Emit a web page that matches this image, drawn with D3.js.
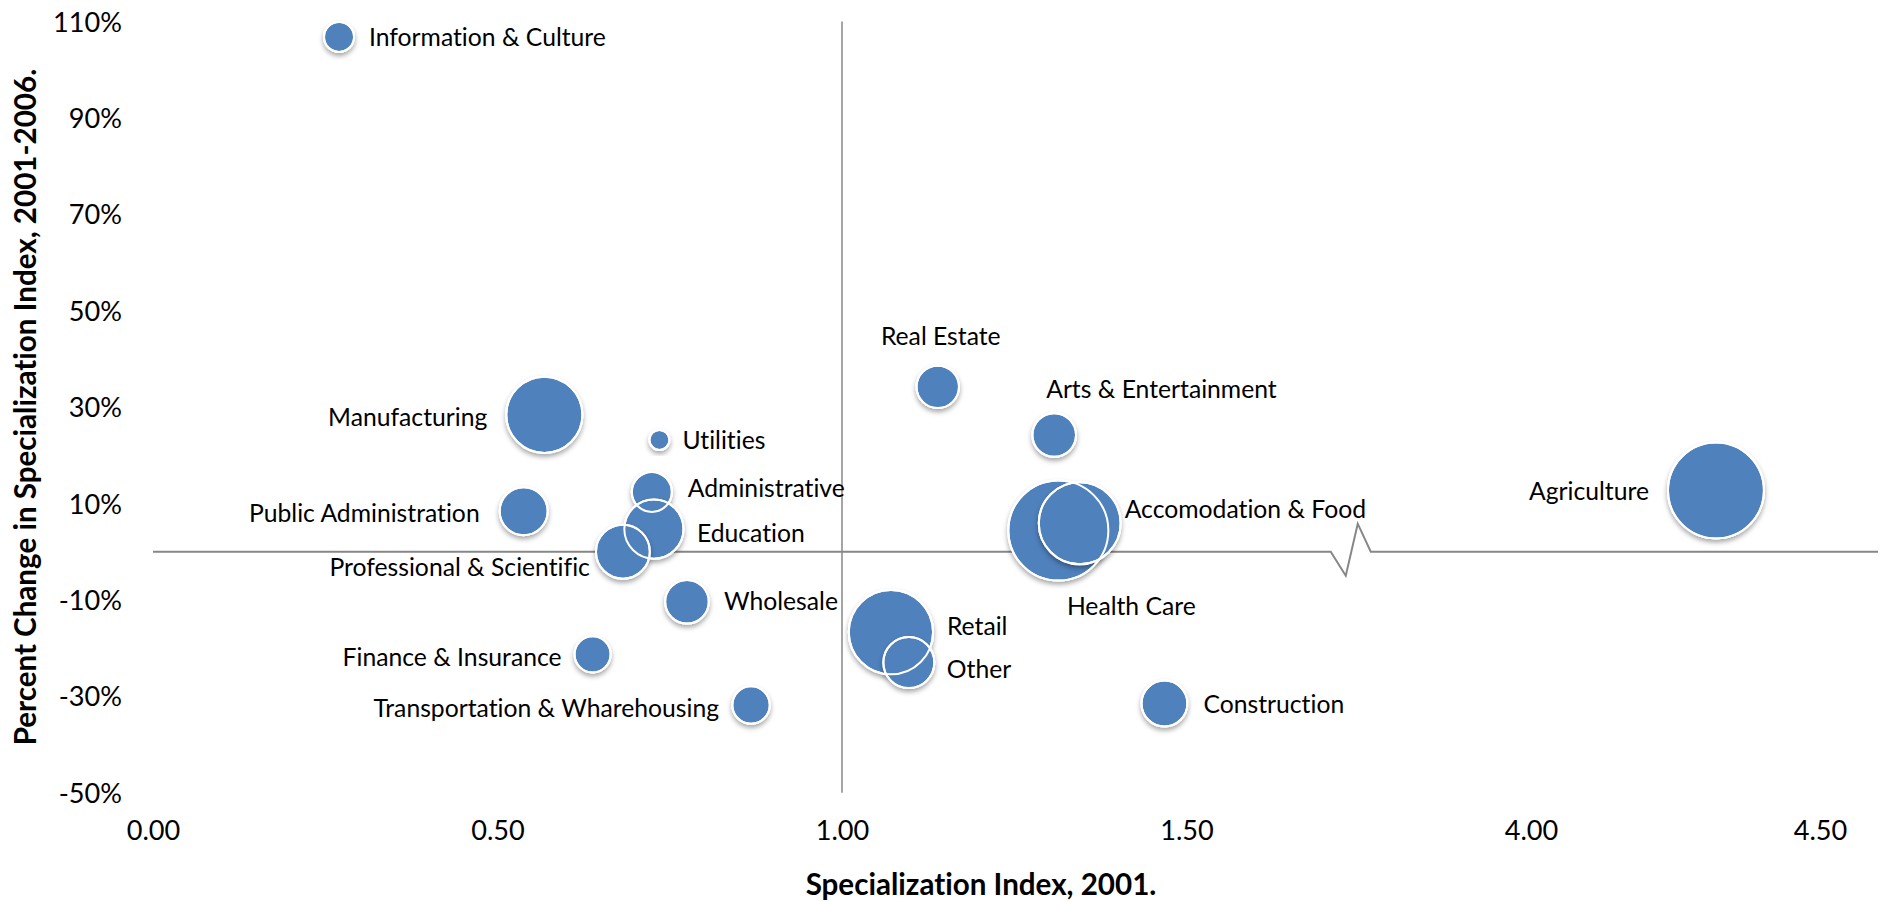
<!DOCTYPE html>
<html>
<head>
<meta charset="utf-8">
<script src="https://cdn.jsdelivr.net/npm/d3@7"></script>
<style>
  body { margin: 0; background: #fff; }
  svg { display: block; }
  svg text { font-variant-ligatures: none; font-feature-settings: "liga" 0, "clig" 0; }
</style>
</head>
<body>
<div id="chart"></div>
<script>
// industries, 2001 specialization index, % change 2001-2006, bubble size
let sectors = ['Information & Culture', 'Manufacturing', 'Utilities', 'Administrative',
  'Public Administration', 'Education', 'Professional & Scientific', 'Wholesale',
  'Finance & Insurance', 'Transportation & Wharehousing', 'Real Estate',
  'Arts & Entertainment', 'Health Care', 'Accomodation & Food', 'Retail', 'Other',
  'Construction', 'Agriculture']
let index2001 = [0.27, 0.568, 0.735, 0.724, 0.538, 0.727, 0.682, 0.775, 0.638, 0.868,
  1.139, 1.308, 1.314, 1.345, 1.071, 1.097, 1.468, 4.32]
let pctChange = [106.8, 28.4, 23.2, 12.4, 8.4, 4.7, 0.0, -10.4, -21.3, -31.8,
  34.2, 24.2, 4.4, 5.9, -16.7, -23.0, -31.5, 12.7]
let bubbleSize = [9, 58, 4, 16, 23, 35, 29, 19, 13, 14, 18, 19, 100, 67, 71, 26, 21, 92]

let xTicks = [0, 0.5, 1, 1.5, 4, 4.5]
let yTicks = [-50, -30, -10, 10, 30, 50, 70, 90, 110]

// label placement: [text-anchor, dx, dy] from bubble centre
let labelPos = {
  'Information & Culture': ['start', 30, 0],
  'Manufacturing': ['end', -57, 3],
  'Utilities': ['start', 23, 0],
  'Administrative': ['start', 36, -4],
  'Public Administration': ['end', -44, 2],
  'Education': ['start', 43, 4],
  'Professional & Scientific': ['end', -33, 16],
  'Wholesale': ['start', 37, 0],
  'Finance & Insurance': ['end', -31, 3],
  'Transportation & Wharehousing': ['end', -32, 3],
  'Real Estate': ['middle', 3, -51],
  'Arts & Entertainment': ['start', -8, -46],
  'Health Care': ['middle', 73, 76],
  'Accomodation & Food': ['start', 45, -14],
  'Retail': ['start', 56, -6],
  'Other': ['start', 38, 7],
  'Construction': ['start', 39, 1],
  'Agriculture': ['end', -67, 1]
}

let width = 1884, height = 902
let font = 'Lato, "Open Sans", sans-serif'
let blue = '#4f81bd', lineColor = '#878787'

let data = sectors.map((s, i) => ({
  name: s, x: index2001[i], y: pctChange[i], size: bubbleSize[i]
}))

let svg = d3.select('#chart')
  .append('svg')
  .attr('width', width)
  .attr('height', height)

// broken x axis: 1.50 jumps straight to 4.00
let x = d3.scaleLinear()
  .domain([0, 1.5, 4, 4.5])
  .range([153, 1186.5, 1531, 1820])

let y = d3.scaleLinear()
  .domain([-50, 110])
  .range([792.7, 21.5])

let r = d3.scaleSqrt()
  .domain([0, d3.max(bubbleSize)])
  .range([0, 50])

// size fonts so text widths match the original Calibri widths
function fitSize(weight, sample, target) {
  let t = svg.append('text')
    .attr('font-family', font)
    .attr('font-weight', weight)
    .attr('font-size', 100)
    .text(sample)
  let w = t.node().getComputedTextLength()
  t.remove()
  return 100 * target / w
}
let tickSize = fitSize('normal', '110%', 69)
let labelSize = fitSize('normal', 'Information & Culture', 237)
let titleSize = fitSize('bold', 'Specialization Index, 2001.', 351)

let defs = svg.append('defs')
defs.append('filter')
  .attr('id', 'shadow')
  .attr('x', '-30%').attr('y', '-30%')
  .attr('width', '160%').attr('height', '160%')
  .append('feDropShadow')
  .attr('dx', 0)
  .attr('dy', 3)
  .attr('stdDeviation', 2.5)
  .attr('flood-color', '#000')
  .attr('flood-opacity', 0.35)

// axes (labels only)
let xAxis = svg.append('g')
  .attr('transform', 'translate(0,830)')
  .call(d3.axisBottom(x).tickValues(xTicks).tickFormat(d3.format('.2f')).tickSize(0).tickPadding(0))
xAxis.select('.domain').remove()
xAxis.selectAll('text')
  .attr('y', 0)
  .attr('dy', '0.35em')
  .attr('font-family', font)
  .attr('font-size', tickSize)
  .attr('fill', '#000')

let yAxis = svg.append('g')
  .attr('transform', 'translate(122,0)')
  .call(d3.axisLeft(y).tickValues(yTicks).tickFormat(d => d + '%').tickSize(0).tickPadding(0))
yAxis.select('.domain').remove()
yAxis.selectAll('text')
  .attr('x', 0)
  .attr('dy', '0.35em')
  .attr('font-family', font)
  .attr('font-size', tickSize)
  .attr('fill', '#000')

// crossing lines at x = 1.00 and y = 0%
svg.append('line')
  .attr('x1', x(1)).attr('x2', x(1))
  .attr('y1', y(110)).attr('y2', y(-50))
  .attr('stroke', lineColor)
  .attr('stroke-width', 1.5)

let y0 = y(0)
let bx = (x(1.5) + x(4)) / 2
let zeroLine = [
  [x(0), y0], [bx - 28, y0], [bx - 13, y0 + 24], [bx - 1, y0 - 28], [bx + 12, y0], [width - 6, y0]
]
svg.append('path')
  .attr('d', d3.line()(zeroLine))
  .attr('fill', 'none')
  .attr('stroke', lineColor)
  .attr('stroke-width', 2)
  .attr('stroke-linejoin', 'miter')

// bubbles: fills first, then all white outlines on top
svg.append('g')
  .selectAll('circle')
  .data(data)
  .enter()
  .append('circle')
  .attr('cx', d => x(d.x))
  .attr('cy', d => y(d.y))
  .attr('r', d => r(d.size))
  .attr('fill', blue)
  .attr('stroke', '#fff')
  .attr('stroke-width', 2)
  .attr('filter', 'url(#shadow)')

svg.append('g')
  .selectAll('circle')
  .data(data)
  .enter()
  .append('circle')
  .attr('cx', d => x(d.x))
  .attr('cy', d => y(d.y))
  .attr('r', d => r(d.size))
  .attr('fill', 'none')
  .attr('stroke', '#fff')
  .attr('stroke-width', 2)

svg.append('g')
  .selectAll('text')
  .data(data)
  .enter()
  .append('text')
  .attr('x', d => x(d.x) + labelPos[d.name][1])
  .attr('y', d => y(d.y) + labelPos[d.name][2])
  .attr('dy', '0.35em')
  .attr('text-anchor', d => labelPos[d.name][0])
  .attr('font-family', font)
  .attr('font-size', labelSize)
  .attr('fill', '#000')
  .text(d => d.name)

// axis titles
svg.append('text')
  .attr('x', 981)
  .attr('y', 885)
  .attr('dy', '0.35em')
  .attr('text-anchor', 'middle')
  .attr('font-family', font)
  .attr('font-weight', 'bold')
  .attr('font-size', titleSize)
  .text('Specialization Index, 2001.')

svg.append('text')
  .attr('transform', 'translate(26,' + ((y(110) + y(-50)) / 2) + ') rotate(-90)')
  .attr('dy', '0.35em')
  .attr('text-anchor', 'middle')
  .attr('font-family', font)
  .attr('font-weight', 'bold')
  .attr('font-size', titleSize)
  .text('Percent Change in Specialization Index, 2001-2006.')
</script>
</body>
</html>
